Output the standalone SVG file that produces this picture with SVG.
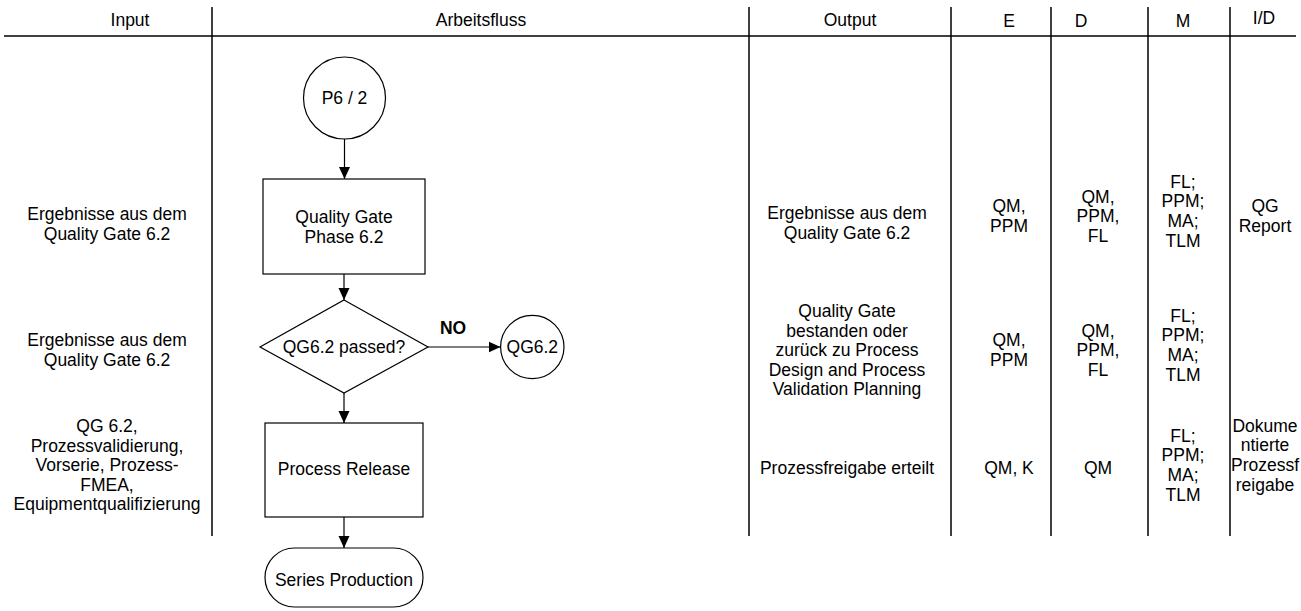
<svg xmlns="http://www.w3.org/2000/svg" width="1301" height="611" viewBox="0 0 1301 611">
  <style>
    .t { font-family: "Liberation Sans", Arial, sans-serif; font-size: 17.5px; fill: #000; text-anchor: middle; }
    .b { font-weight: bold; }
    .grid { stroke: #000; stroke-width: 1.5; fill: none; }
    .shape { stroke: #000; stroke-width: 1.2; fill: #fff; }
    .conn { stroke: #000; stroke-width: 1.2; fill: none; marker-end: url(#arrow); }
  </style>
  <defs>
    <marker id="arrow" markerUnits="userSpaceOnUse" markerWidth="12" markerHeight="12" viewBox="0 0 12 12" refX="12" refY="6" orient="auto">
      <path d="M0,0.5 L12,6 L0,11.5 Z" fill="#000"/>
    </marker>
  </defs>
  <rect width="1301" height="611" fill="#fff"/>

  <!-- table grid -->
  <g id="grid" class="grid">
    <line x1="4" y1="36" x2="1296" y2="36"/>
    <line x1="212" y1="7" x2="212" y2="536"/>
    <line x1="749" y1="7" x2="749" y2="536"/>
    <line x1="951" y1="7" x2="951" y2="536"/>
    <line x1="1051" y1="7" x2="1051" y2="536"/>
    <line x1="1148" y1="7" x2="1148" y2="536"/>
    <line x1="1230" y1="7" x2="1230" y2="536"/>
  </g>

  <!-- column headers -->
  <g id="headers" class="t">
    <text x="130" y="26">Input</text>
    <text x="481" y="26">Arbeitsfluss</text>
    <text x="850" y="26">Output</text>
    <text x="1009" y="27">E</text>
    <text x="1081" y="27">D</text>
    <text x="1183" y="27">M</text>
    <text x="1264" y="24">I/D</text>
  </g>

  <!-- input column -->
  <g id="input" class="t">
    <text x="107" y="220">Ergebnisse aus dem</text>
    <text x="107" y="240">Quality Gate 6.2</text>
    <text x="107" y="346">Ergebnisse aus dem</text>
    <text x="107" y="366">Quality Gate 6.2</text>
    <text x="107" y="432">QG 6.2,</text>
    <text x="107" y="451.5">Prozessvalidierung,</text>
    <text x="107" y="471">Vorserie, Prozess-</text>
    <text x="107" y="490.5">FMEA,</text>
    <text x="107" y="510">Equipmentqualifizierung</text>
  </g>

  <!-- connectors -->
  <g id="connectors">
    <line class="conn" x1="344.5" y1="139" x2="344.5" y2="179"/>
    <line class="conn" x1="344" y1="274" x2="344" y2="300"/>
    <line class="conn" x1="344" y1="393" x2="344" y2="423"/>
    <line class="conn" x1="428" y1="347" x2="500.5" y2="347"/>
    <line class="conn" x1="344" y1="517" x2="344" y2="548"/>
    <text class="t b" x="453" y="334">NO</text>
  </g>

  <!-- flowchart nodes -->
  <g id="start">
    <circle class="shape" cx="344.5" cy="98" r="41"/>
    <text class="t" x="344.5" y="104">P6 / 2</text>
  </g>
  <g id="quality-gate">
    <rect class="shape" x="263" y="179" width="162" height="95"/>
    <text class="t" x="344" y="223">Quality Gate</text>
    <text class="t" x="344" y="243">Phase 6.2</text>
  </g>
  <g id="decision">
    <polygon class="shape" points="344,300 428,347 344,393 260,347"/>
    <text class="t" x="344" y="353">QG6.2 passed?</text>
  </g>
  <g id="qg-return">
    <circle class="shape" cx="532.3" cy="347" r="31.7"/>
    <text class="t" x="532.3" y="353">QG6.2</text>
  </g>
  <g id="process-release">
    <rect class="shape" x="265" y="423" width="158" height="94"/>
    <text class="t" x="344" y="475">Process Release</text>
  </g>
  <g id="series-production">
    <rect class="shape" x="265" y="548" width="158" height="59" rx="29.5" ry="29.5"/>
    <text class="t" x="344" y="586">Series Production</text>
  </g>

  <!-- output column -->
  <g id="output" class="t">
    <text x="847" y="219">Ergebnisse aus dem</text>
    <text x="847" y="239">Quality Gate 6.2</text>
    <text x="847" y="317">Quality Gate</text>
    <text x="847" y="336.5">bestanden oder</text>
    <text x="847" y="356">zurück zu Process</text>
    <text x="847" y="375.5">Design and Process</text>
    <text x="847" y="395">Validation Planning</text>
    <text x="847" y="474">Prozessfreigabe erteilt</text>
  </g>

  <!-- E column -->
  <g id="col-e" class="t">
    <text x="1009" y="212">QM,</text>
    <text x="1009" y="232">PPM</text>
    <text x="1009" y="346">QM,</text>
    <text x="1009" y="366">PPM</text>
    <text x="1009" y="474">QM, K</text>
  </g>

  <!-- D column -->
  <g id="col-d" class="t">
    <text x="1098" y="202.5">QM,</text>
    <text x="1098" y="222">PPM,</text>
    <text x="1098" y="241.5">FL</text>
    <text x="1098" y="336.5">QM,</text>
    <text x="1098" y="356">PPM,</text>
    <text x="1098" y="375.5">FL</text>
    <text x="1098" y="474">QM</text>
  </g>

  <!-- M column -->
  <g id="col-m" class="t">
    <text x="1183" y="187.5">FL;</text>
    <text x="1183" y="207">PPM;</text>
    <text x="1183" y="227">MA;</text>
    <text x="1183" y="246.5">TLM</text>
    <text x="1183" y="321.5">FL;</text>
    <text x="1183" y="341">PPM;</text>
    <text x="1183" y="361">MA;</text>
    <text x="1183" y="380.5">TLM</text>
    <text x="1183" y="441.5">FL;</text>
    <text x="1183" y="461">PPM;</text>
    <text x="1183" y="481">MA;</text>
    <text x="1183" y="500.5">TLM</text>
  </g>

  <!-- I/D column -->
  <g id="col-id" class="t">
    <text x="1265" y="212">QG</text>
    <text x="1265" y="232">Report</text>
    <text x="1265" y="431.5">Dokume</text>
    <text x="1265" y="451">ntierte</text>
    <text x="1265" y="471">Prozessf</text>
    <text x="1265" y="490.5">reigabe</text>
  </g>
</svg>
